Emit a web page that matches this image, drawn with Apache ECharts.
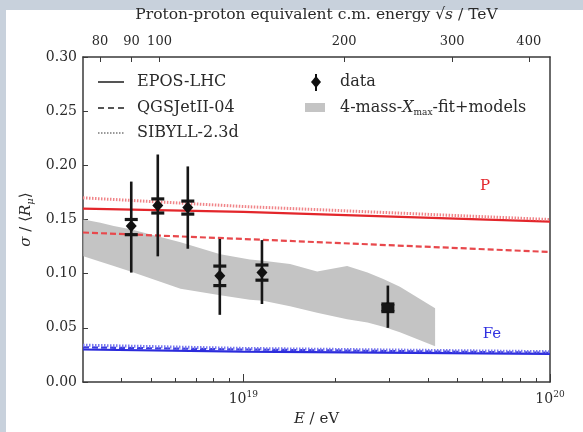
<!DOCTYPE html>
<html>
<head>
<meta charset="utf-8">
<script src="https://cdn.jsdelivr.net/npm/echarts@6/dist/echarts.min.js"></script>
<style>
  html, body { margin: 0; padding: 0; background: #c8d1dc; }
  #chart { width: 583px; height: 432px; }
</style>
</head>
<body>
<div id="chart"></div>
<script>
// Primary energy E / eV of the measured points
const dataE = [4.31e18, 5.26e18, 6.59e18, 8.38e18, 1.15e19, 2.96e19];
// sigma / <R_mu>
const dataVal = [0.144, 0.163, 0.161, 0.098, 0.101, 0.069];
const dataStatLo = [0.101, 0.116, 0.123, 0.062, 0.072, 0.050];
const dataStatHi = [0.185, 0.210, 0.199, 0.132, 0.131, 0.089];
const dataSysLo = [0.136, 0.156, 0.155, 0.089, 0.094, 0.065];
const dataSysHi = [0.150, 0.169, 0.167, 0.107, 0.108, 0.072];

// 4-mass Xmax fit + models band
const bandE = [3.01e18, 3.42e18, 3.78e18, 4.29e18, 6.24e18, 8.41e18, 1.05e19, 1.16e19, 1.42e19, 1.74e19, 2.18e19, 2.54e19, 2.86e19, 3.24e19, 4.22e19];
const bandUpper = [0.150, 0.147, 0.144, 0.141, 0.129, 0.118, 0.113, 0.112, 0.109, 0.102, 0.107, 0.101, 0.095, 0.088, 0.068];
const bandLower = [0.116, 0.111, 0.107, 0.102, 0.086, 0.080, 0.076, 0.075, 0.070, 0.064, 0.058, 0.055, 0.051, 0.046, 0.033];

// Model predictions for proton and iron primaries
const modelE = [3e18, 1e19, 1e20];
const eposP = [0.160, 0.157, 0.148];
const qgsjetP = [0.138, 0.132, 0.120];
const sibyllP = [0.170, 0.162, 0.150];
const eposFe = [0.030, 0.028, 0.026];
const qgsjetFe = [0.032, 0.030, 0.027];
const sibyllFe = [0.034, 0.031, 0.028];

// Axis ticks
const xMajorE = [1e19, 1e20];
const xMinorE = [4e18, 5e18, 6e18, 7e18, 8e18, 9e18, 2e19, 3e19, 4e19, 5e19, 6e19, 7e19, 8e19, 9e19];
const sqrtSTicks = [80, 90, 100, 200, 300, 400]; // TeV

// Primary labels: [E, value, text, colour]
const primaryLabels = [[6.14e19, 0.181, 'P', '#e3262b'], [6.47e19, 0.044, 'Fe', '#3030e0']];

const E_MIN = 3e18, E_MAX = 1e20;
const PROTON_MASS_EV = 0.938272e9;
const lg = Math.log10;
// fixed-target equivalent: s = 2 m_p E
const sqrtSToLogE = s => 2 * lg(s * 1e12) - lg(2 * PROTON_MASS_EV);

const serif = 'DejaVu Serif';
const ink = '#2a2a2a';
const axisColor = '#3a3a3a';
const legendFont = '16px "DejaVu Serif"';

function pairs(xs, ys) { return xs.map((x, i) => [lg(x), ys[i]]); }

const chart = echarts.init(document.getElementById('chart'), null, { renderer: 'canvas' });

const xBase = {
  type: 'value', min: lg(E_MIN), max: lg(E_MAX),
  splitLine: { show: false },
  axisLine: { show: true, lineStyle: { color: axisColor, width: 1.5 } }
};

const option = {
  backgroundColor: 'transparent',
  animation: false,
  graphic: [
    { type: 'rect', z: -10, shape: { x: 6, y: 10, width: 577, height: 422 }, style: { fill: '#ffffff' } },
    // legend, left column
    { type: 'line', shape: { x1: 98, y1: 82, x2: 124, y2: 82 }, style: { stroke: '#555', lineWidth: 2 } },
    { type: 'text', style: { x: 137, y: 82, text: 'EPOS-LHC', font: legendFont, fill: ink, verticalAlign: 'middle' } },
    { type: 'line', shape: { x1: 98, y1: 108, x2: 124, y2: 108 }, style: { stroke: '#555', lineWidth: 2, lineDash: [6, 4] } },
    { type: 'text', style: { x: 137, y: 108, text: 'QGSJetII-04', font: legendFont, fill: ink, verticalAlign: 'middle' } },
    { type: 'line', shape: { x1: 98, y1: 133, x2: 124, y2: 133 }, style: { stroke: '#999', lineWidth: 2, lineDash: [1.5, 1.5] } },
    { type: 'text', style: { x: 137, y: 133, text: 'SIBYLL-2.3d', font: legendFont, fill: ink, verticalAlign: 'middle' } },
    // legend, right column
    { type: 'line', shape: { x1: 316, y1: 74, x2: 316, y2: 91 }, style: { stroke: '#111', lineWidth: 2 } },
    { type: 'polygon', shape: { points: [[316, 76], [321, 82], [316, 88], [311, 82]] }, style: { fill: '#111' } },
    { type: 'text', style: { x: 340, y: 82, text: 'data', font: legendFont, fill: ink, verticalAlign: 'middle' } },
    { type: 'rect', shape: { x: 305, y: 103, width: 20, height: 9 }, style: { fill: '#c4c4c4' } },
    { type: 'text', style: { x: 340, y: 108, text: '4-mass-{i|X}{sub|max}-fit+models', font: legendFont, fill: ink, verticalAlign: 'middle',
        rich: { i: { fontStyle: 'italic', fontFamily: serif, fontSize: 16, fill: ink }, sub: { fontSize: 9, fontFamily: serif, padding: [9, 0, 0, 0], fill: ink } } } }
  ],
  grid: { left: 83, right: 33, top: 57, bottom: 48, containLabel: false },
  xAxis: [
    Object.assign({}, xBase, {
      position: 'bottom',
      name: '{i|E} / eV', nameLocation: 'middle', nameGap: 30,
      nameTextStyle: { fontFamily: serif, fontSize: 15, color: ink, rich: { i: { fontStyle: 'italic', fontFamily: serif, fontSize: 15, color: ink } } },
      axisTick: { show: true, inside: true, length: 8, customValues: xMajorE.map(lg), lineStyle: { color: axisColor } },
      axisLabel: {
        show: true, margin: 8, customValues: xMajorE.map(lg),
        formatter: v => '10{sup|' + Math.round(v) + '}',
        fontFamily: serif, fontSize: 14, color: ink,
        rich: { sup: { fontSize: 9, fontFamily: serif, color: ink, padding: [0, 0, 9, 0] } }
      }
    }),
    Object.assign({}, xBase, {
      position: 'bottom',
      axisLine: { show: false },
      axisTick: { show: true, inside: true, length: 4, customValues: xMinorE.map(lg), lineStyle: { color: axisColor } },
      axisLabel: { show: false }
    }),
    Object.assign({}, xBase, {
      position: 'top',
      name: 'Proton-proton equivalent c.m. energy √{i|s} / TeV', nameLocation: 'middle', nameGap: 34,
      nameTextStyle: { fontFamily: serif, fontSize: 15.5, color: ink, rich: { i: { fontStyle: 'italic', fontFamily: serif, fontSize: 15.5, color: ink } } },
      axisTick: { show: true, inside: true, length: 5, customValues: sqrtSTicks.map(sqrtSToLogE), lineStyle: { color: axisColor } },
      axisLabel: {
        show: true, margin: 9, customValues: sqrtSTicks.map(sqrtSToLogE),
        formatter: v => String(Math.round(Math.sqrt(2 * PROTON_MASS_EV * Math.pow(10, v)) / 1e12)),
        fontFamily: serif, fontSize: 13, color: ink
      }
    })
  ],
  yAxis: [
    {
      type: 'value', position: 'left', min: 0, max: 0.30, interval: 0.05,
      name: '{i|σ} / ⟨{i|R}{sub|μ}⟩', nameLocation: 'middle', nameGap: 44, nameRotate: 90,
      nameTextStyle: { fontFamily: serif, fontSize: 15, color: ink,
        rich: { i: { fontStyle: 'italic', fontFamily: serif, fontSize: 15, color: ink }, sub: { fontStyle: 'italic', fontSize: 10, fontFamily: serif, color: ink, padding: [8, 0, 0, 0] } } },
      splitLine: { show: false },
      axisLine: { show: true, lineStyle: { color: axisColor, width: 1.5 } },
      axisTick: { show: true, inside: true, length: 5, lineStyle: { color: axisColor } },
      axisLabel: { margin: 6, formatter: v => v.toFixed(2), fontFamily: serif, fontSize: 14, color: ink }
    },
    {
      type: 'value', position: 'right', min: 0, max: 0.30, interval: 0.05,
      splitLine: { show: false },
      axisLine: { show: true, lineStyle: { color: axisColor, width: 1.5 } },
      axisTick: { show: false }, axisLabel: { show: false }
    }
  ],
  series: [
    {
      name: 'band', type: 'custom', xAxisIndex: 0, yAxisIndex: 0, z: 1, silent: true,
      data: [[lg(bandE[0]), bandUpper[0]]],
      renderItem: (params, api) => {
        const pts = [];
        bandE.forEach((e, i) => pts.push(api.coord([lg(e), bandUpper[i]])));
        for (let i = bandE.length - 1; i >= 0; i--) pts.push(api.coord([lg(bandE[i]), bandLower[i]]));
        return { type: 'polygon', shape: { points: pts }, style: { fill: '#c4c4c4' } };
      }
    },
    { name: 'EPOS-LHC p', type: 'line', data: pairs(modelE, eposP), showSymbol: false, z: 3,
      lineStyle: { color: '#e3262b', width: 2.2 } },
    { name: 'QGSJetII-04 p', type: 'line', data: pairs(modelE, qgsjetP), showSymbol: false, z: 3,
      lineStyle: { color: '#e8484c', width: 2.2, type: [6, 3] } },
    { name: 'SIBYLL-2.3d p', type: 'line', data: pairs(modelE, sibyllP), showSymbol: false, z: 3,
      lineStyle: { color: '#f08488', width: 3, type: [1.5, 1.5] } },
    { name: 'EPOS-LHC Fe', type: 'line', data: pairs(modelE, eposFe), showSymbol: false, z: 3,
      lineStyle: { color: '#2b2bdc', width: 2.2 } },
    { name: 'QGSJetII-04 Fe', type: 'line', data: pairs(modelE, qgsjetFe), showSymbol: false, z: 3,
      lineStyle: { color: '#3a3ae0', width: 2.2, type: [6, 3] } },
    { name: 'SIBYLL-2.3d Fe', type: 'line', data: pairs(modelE, sibyllFe), showSymbol: false, z: 3,
      lineStyle: { color: '#7878ee', width: 3, type: [1.5, 1.5] } },
    {
      name: 'data', type: 'custom', z: 5,
      data: dataE.map((e, i) => [lg(e), dataVal[i], dataStatLo[i], dataStatHi[i], dataSysLo[i], dataSysHi[i]]),
      encode: { x: 0, y: 1 },
      renderItem: (params, api) => {
        const x = api.value(0);
        const c = api.coord([x, api.value(1)]);
        const sLo = api.coord([x, api.value(2)]);
        const sHi = api.coord([x, api.value(3)]);
        const yLo = api.coord([x, api.value(4)]);
        const yHi = api.coord([x, api.value(5)]);
        const half = 6.5;
        const cap = { stroke: '#161616', lineWidth: 3.2 };
        const children = [
          { type: 'line', shape: { x1: c[0], y1: sLo[1], x2: c[0], y2: sHi[1] }, style: { stroke: '#161616', lineWidth: 2.6 } },
          { type: 'line', shape: { x1: c[0] - half, y1: yLo[1], x2: c[0] + half, y2: yLo[1] }, style: cap },
          { type: 'line', shape: { x1: c[0] - half, y1: yHi[1], x2: c[0] + half, y2: yHi[1] }, style: cap },
          { type: 'polygon', shape: { points: [[c[0], c[1] - 6], [c[0] + 5.5, c[1]], [c[0], c[1] + 6], [c[0] - 5.5, c[1]]] }, style: { fill: '#111' } }
        ];
        // caps close together merge into a solid block
        if (yLo[1] - yHi[1] < 10) {
          children.push({ type: 'rect', shape: { x: c[0] - half, y: yHi[1], width: 2 * half, height: yLo[1] - yHi[1] }, style: { fill: '#161616' } });
        }
        return { type: 'group', children };
      }
    },
    {
      name: 'labels', type: 'custom', z: 6, silent: true,
      data: primaryLabels.map(l => [lg(l[0]), l[1]]),
      renderItem: (params, api) => {
        const p = api.coord([api.value(0), api.value(1)]);
        const item = primaryLabels[params.dataIndex];
        return { type: 'text', x: p[0], y: p[1],
          style: { text: item[2], fill: item[3], font: '15px "DejaVu Serif"', align: 'center', verticalAlign: 'middle' } };
      }
    }
  ]
};

chart.setOption(option);
</script>
</body>
</html>
